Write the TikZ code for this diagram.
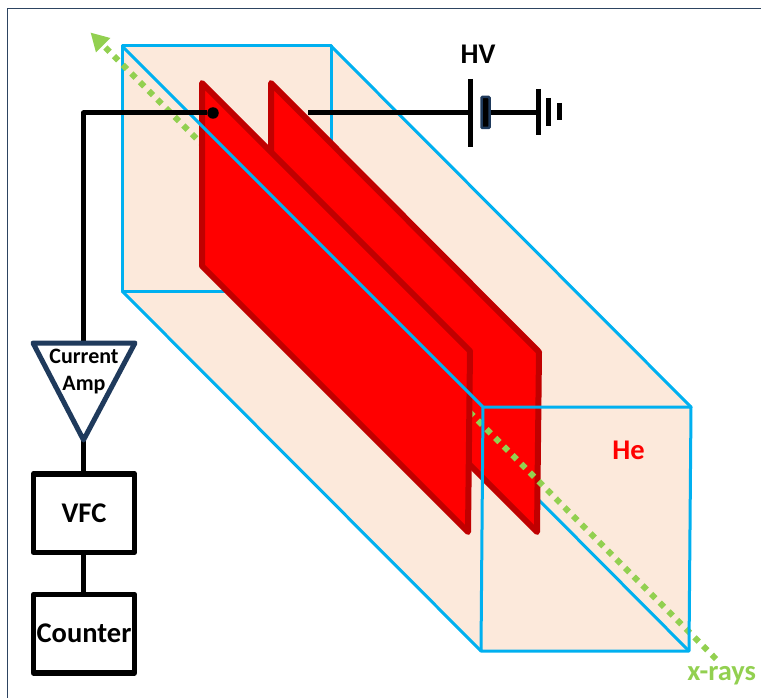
\documentclass[tikz,border=0pt]{standalone}
\usepackage{fontspec}
\setmainfont{Carlito}
\usetikzlibrary{arrows.meta}
\definecolor{gasfill}{HTML}{FCE9DB}
\definecolor{boxblue}{HTML}{00B0F0}
\definecolor{platered}{HTML}{FF0000}
\definecolor{plateedge}{HTML}{C00000}
\definecolor{rayGreen}{HTML}{92D050}
\definecolor{ampblue}{HTML}{1F3A5C}
\tikzset{
  boxline/.style={boxblue,line width=3},
  plate/.style={draw=plateedge,fill=platered,line width=6,line join=round},
  wire/.style={black,line width=5},
  unitbox/.style={draw=black,line width=5.5,line join=round,minimum width=101,minimum height=78.5,inner sep=0,font=\fontsize{28.5}{30}\selectfont\bfseries},
  label/.style={font=\fontsize{28.5}{30}\selectfont\bfseries,inner sep=0}
}
\begin{document}
\begin{tikzpicture}[x=1pt,y=-1pt]
\useasboundingbox (0,0) rectangle (761,698);
\draw[ampblue!85!gray,line width=1.2](7.7,698)--(7.7,8.7)--(761,8.7);
% gas volume
\fill[gasfill](122,46)--(331,46)--(691,407)--(689,651)--(481,651)--(122,291)--cycle;
\draw[boxline,line join=round](331,291)--(122,291)--(122,46)--(331,46)--(331,291);
\draw[boxline](331,291)--(689,651);
% plates
\draw[plate](271,83)--(539,352)--(537,532)--(271,266)--cycle;
% beam
\coordinate (raystart) at (716,659);
\coordinate (rayend) at (90.5,32.5);
\draw[rayGreen,line width=6,dash pattern=on 6pt off 6.26pt,-{Triangle[length=18,width=19]}](raystart)--(rayend);
\draw[plate](202,83)--(470,351)--(468,532)--(202,266)--cycle;
% front of the box
\draw[boxline,line join=round](122,46)--(483,407)--(691,407)--(689,651)--(481,651)--(483,407);
\draw[boxline](331,46)--(691,407);
\draw[boxline](122,291)--(481,651);
% readout chain
\node[unitbox] (vfc) at (84,513) {VFC};
\node[unitbox] (counter) at (84,633.7) {Counter};
\coordinate (ampleft) at (33,343);
\coordinate (ampright) at (135,343);
\coordinate (amptip) at (83.5,440);
\coordinate (ampin) at (83.5,343);
\node[circle,fill=black,minimum size=11.5,inner sep=0] (contact) at (213,113) {};
\draw[wire,line join=round](contact)-|(ampin);
\draw[wire](amptip)--(amptip|-vfc.north);
\draw[wire](amptip|-vfc.south)--(amptip|-counter.north);
\draw[ampblue,line width=5,line join=round,fill=white](ampleft)--(ampright)--(amptip)--cycle;
\node[font=\fontsize{22}{27}\selectfont\bfseries,align=center,inner sep=0] (amp) at (84,371.5) {Current\\Amp};
% high voltage
\coordinate (hvwire) at (308,113);
\coordinate (anode) at (470,113);
\coordinate (cathode) at (485,113);
\coordinate (ground) at (538,113);
\draw[wire](hvwire)--(anode);
\draw[wire](cathode)--(ground);
\draw[wire](470,79)--(470,147);
\draw[ampblue,fill=black,line width=2.5,rounded corners=1](481.5,97)rectangle(489.5,128);
\draw[wire](538,89)--(538,135);
\draw[wire](548,98)--(548,126);
\draw[wire](559,103)--(559,120);
\node[label] (hv) at (478,54) {HV};
\node[label,text=platered] (he) at (628.5,450.5) {He};
\node[label,text=rayGreen] (xrays) at (721.7,676) {x-rays};
\end{tikzpicture}
\end{document}
